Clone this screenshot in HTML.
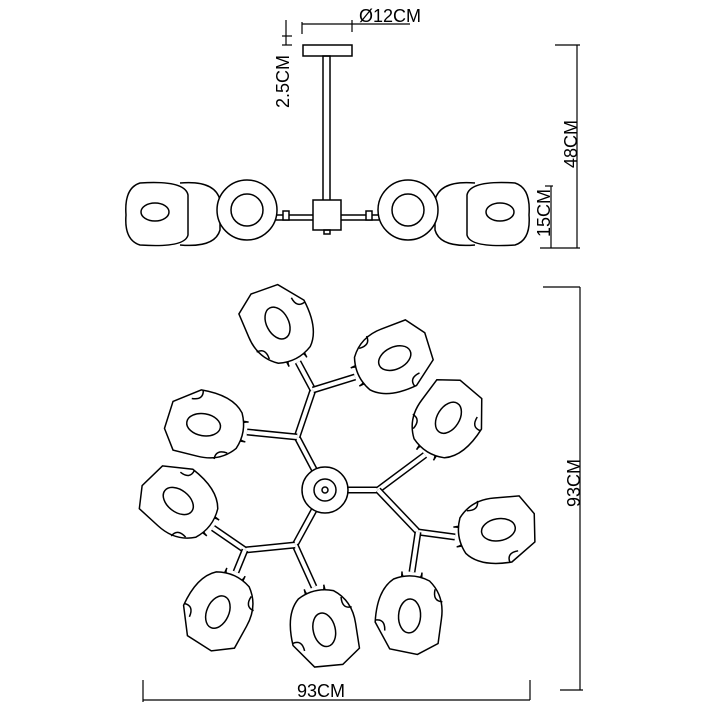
<!DOCTYPE html><html><head><style>body{margin:0;background:#fff}svg{display:block}text{font-family:"Liberation Sans",sans-serif;font-size:18px;fill:#000}</style></head><body>
<svg id="s" width="715" height="715" viewBox="0 0 715 715" fill="none" stroke="#000" stroke-width="1.5">
<defs>
<g id="shade">
<path d="M-10,0 A10,10 0 0 1 10,0 L10,-8 L-10,-8Z" fill="#fff"/>
<path d="M-18,-8 Q-34,-22 -32,-45 L-30,-70 L-10,-82 L18,-78 L34,-52 Q34,-20 18,-8 Q0,0 -18,-8Z" fill="#fff"/>
<ellipse cx="0" cy="-44" rx="11" ry="17"/>
<path d="M-32,-28 Q-22,-28 -24,-16"/><path d="M34,-50 Q24,-48 24,-60"/>
</g>
</defs>
<rect x="303" y="45" width="49" height="11"/>
<rect x="323" y="56" width="7" height="145"/>
<line x1="200" y1="215" x2="455" y2="215"/><line x1="200" y1="220" x2="455" y2="220"/>
<rect x="313" y="200" width="28" height="30" fill="#fff"/>
<rect x="324" y="230" width="6" height="4"/>
<path d="M180,183 Q215,180 220,200 L220,230 Q215,248 180,245" fill="#fff"/>
<path d="M140,183 Q185,180 188,195 L188,235 Q185,248 140,245 Q124,240 126,215 Q124,188 140,183Z" fill="#fff"/>
<ellipse cx="155" cy="212" rx="14" ry="9"/>
<circle cx="247" cy="210" r="30" fill="#fff"/><circle cx="247" cy="210" r="16"/>
<path d="M475,183 Q440,180 435,200 L435,230 Q440,248 475,245" fill="#fff"/>
<path d="M515,183 Q470,180 467,195 L467,235 Q470,248 515,245 Q531,240 529,215 Q531,188 515,183Z" fill="#fff"/>
<ellipse cx="500" cy="212" rx="14" ry="9"/>
<circle cx="408" cy="210" r="30" fill="#fff"/><circle cx="408" cy="210" r="16"/>
<rect x="283" y="211" width="6" height="9" fill="#fff"/><rect x="366" y="211" width="6" height="9" fill="#fff"/>
<g stroke-width="1.2">
<line x1="302" y1="22" x2="302" y2="34"/><line x1="302" y1="24" x2="352" y2="24"/><line x1="352" y1="24" x2="410" y2="24"/><line x1="352" y1="20" x2="352" y2="32"/>
<line x1="286" y1="20" x2="286" y2="45"/><line x1="282" y1="36" x2="292" y2="36"/><line x1="282" y1="45" x2="292" y2="45"/>
<line x1="555" y1="45" x2="580" y2="45"/><line x1="577" y1="45" x2="577" y2="248"/><line x1="540" y1="248" x2="580" y2="248"/>
<line x1="545" y1="186" x2="553" y2="186"/><line x1="551" y1="186" x2="551" y2="248"/>
<line x1="543" y1="287" x2="580" y2="287"/><line x1="580" y1="287" x2="580" y2="690"/><line x1="560" y1="690" x2="583" y2="690"/>
<line x1="143" y1="680" x2="143" y2="702"/><line x1="143" y1="700" x2="530" y2="700"/><line x1="530" y1="680" x2="530" y2="700"/>
</g>
<g stroke="none">
<text x="359" y="22">Ø12CM</text>
<text transform="translate(289,108) rotate(-90)">2.5CM</text>
<text transform="translate(577,168) rotate(-90)">48CM</text>
<text transform="translate(550,237) rotate(-90)">15CM</text>
<text transform="translate(580,507) rotate(-90)">93CM</text>
<text x="297" y="697">93CM</text>
</g>
<g id="arms"></g><g id="shades"></g>
<circle cx="325" cy="490" r="23" fill="#fff"/><circle cx="325" cy="490" r="11" fill="#fff"/><circle cx="325" cy="490" r="3"/>
</svg>
<script>
var NS="http://www.w3.org/2000/svg",arms=document.getElementById('arms'),sh=document.getElementById('shades');
function arm(a,b){[[7,'#000'],[4,'#fff']].forEach(function(w){var l=document.createElementNS(NS,'line');l.setAttribute('x1',a[0]);l.setAttribute('y1',a[1]);l.setAttribute('x2',b[0]);l.setAttribute('y2',b[1]);l.setAttribute('stroke',w[1]);l.setAttribute('stroke-width',w[0]);arms.appendChild(l);});}
var H=[325,490],A=[297,437],B=[313,390],C=[378,490],D=[418,532],E=[295,545],F=[245,550];
var S=[[[277,322],[298,362]],[[395,358],[355,377]],[[205,425],[247,432]],[[447,420],[425,455]],[[177,500],[213,528]],[[497,530],[455,537]],[[212,625],[236,572]],[[325,633],[314,587]],[[410,608],[412,572]]];
[[H,A],[A,B],[B,S[0][1]],[B,S[1][1]],[A,S[2][1]],[H,C],[C,S[3][1]],[C,D],[D,S[5][1]],[D,S[8][1]],[H,E],[E,S[7][1]],[E,F],[F,S[4][1]],[F,S[6][1]]].forEach(function(p){arm(p[0],p[1]);});
S.forEach(function(s){var c=s[0],k=s[1],ang=Math.atan2(c[1]-k[1],c[0]-k[0])*180/Math.PI+90;var u=document.createElementNS(NS,'use');u.setAttribute('href','#shade');u.setAttribute('transform','translate('+k[0]+','+k[1]+') rotate('+ang+')');sh.appendChild(u);});
</script>
</body></html>
